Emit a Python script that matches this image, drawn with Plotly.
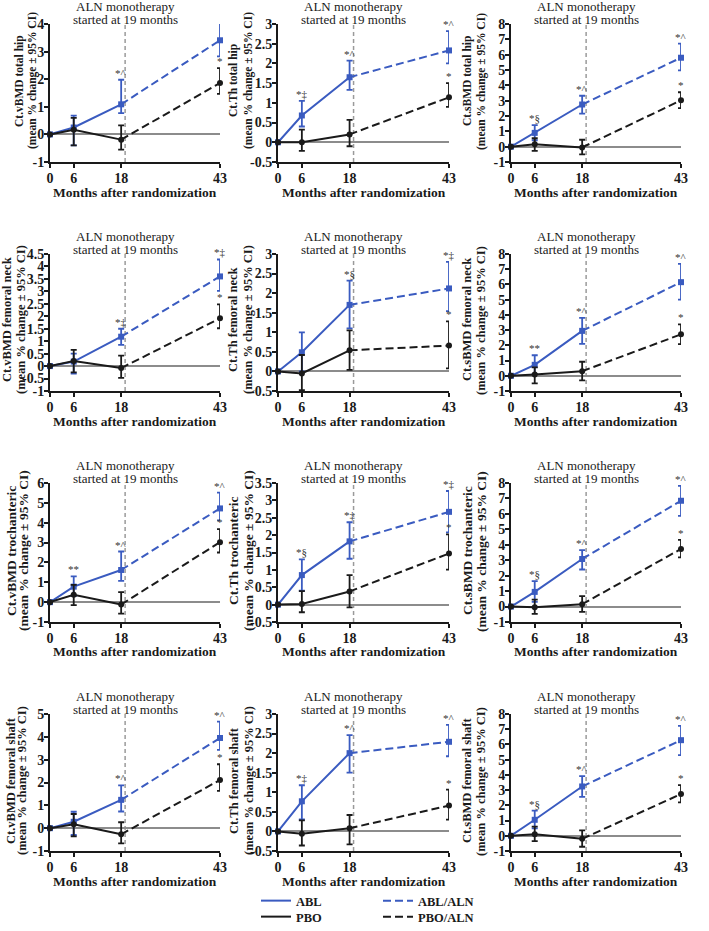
import plotly.graph_objects as go

# ---------------- data ----------------
months = [0, 6, 18, 43]
ALN_START = 19

ylabel_line1 = [
    "Ct.vBMD total hip", "Ct.Th total hip", "Ct.sBMD total hip",
    "Ct.vBMD femoral neck", "Ct.Th femoral neck", "Ct.sBMD femoral neck",
    "Ct.vBMD trochanteric", "Ct.Th trochanteric", "Ct.sBMD trochanteric",
    "Ct.vBMD femoral shaft", "Ct.Th femoral shaft", "Ct.sBMD femoral shaft",
]
ylabel_line2 = "(mean % change ± 95% CI)"
xlabel = "Months after randomization"
title_line1 = "ALN monotherapy"
title_line2 = "started at 19 months"

# y-axis ranges (min, max, tick step)
y_ranges = [
    (-1, 4, 1), (-0.5, 3, 0.5), (-1, 8, 1),
    (-1, 4.5, 0.5), (-0.5, 3, 0.5), (-1, 8, 1),
    (-1, 6, 1), (-0.5, 3.5, 0.5), (-1, 8, 1),
    (-1, 5, 1), (-0.5, 3, 0.5), (-1, 8, 1),
]

abl_mean = [
    [0, 0.25, 1.09, 3.41], [0, 0.68, 1.65, 2.33], [0, 0.90, 2.75, 5.80],
    [0, 0.18, 1.18, 3.60], [0, 0.49, 1.70, 2.12], [0, 0.72, 2.95, 6.15],
    [0, 0.78, 1.62, 4.72], [0, 0.85, 1.82, 2.67], [0, 0.95, 3.08, 6.85],
    [0, 0.28, 1.24, 3.95], [0, 0.77, 2.00, 2.29], [0, 1.05, 3.24, 6.28],
]
abl_lo = [
    [0, -0.40, 0.77, 2.83], [0, 0.40, 1.33, 2.00], [0, 0.42, 2.15, 4.98],
    [0, -0.30, 0.85, 3.02], [0, 0.00, 1.10, 1.54], [0, 0.12, 2.10, 5.00],
    [0, 0.30, 1.07, 4.12], [0, 0.40, 1.32, 2.08], [0, 0.30, 2.40, 5.87],
    [0, -0.30, 0.73, 3.43], [0, 0.31, 1.50, 1.92], [0, 0.48, 2.56, 5.30],
]
abl_hi = [
    [0, 0.68, 1.98, 4.15], [0, 1.05, 2.07, 2.82], [0, 1.40, 3.32, 6.72],
    [0, 0.50, 1.50, 4.28], [0, 1.00, 2.32, 2.80], [0, 1.35, 3.80, 7.35],
    [0, 1.30, 2.55, 5.52], [0, 1.30, 2.37, 3.27], [0, 1.65, 3.65, 7.82],
    [0, 0.72, 1.87, 4.67], [0, 1.18, 2.46, 2.72], [0, 1.65, 3.92, 7.22],
]
pbo_mean = [
    [0, 0.17, -0.19, 1.86], [0, 0.00, 0.20, 1.14], [0, 0.15, -0.05, 3.02],
    [0, 0.20, -0.08, 1.92], [0, -0.05, 0.54, 0.66], [0, 0.08, 0.30, 2.72],
    [0, 0.37, -0.12, 3.02], [0, 0.02, 0.38, 1.47], [0, -0.05, 0.15, 3.73],
    [0, 0.17, -0.27, 2.11], [0, -0.06, 0.08, 0.66], [0, 0.10, -0.20, 2.74],
]
pbo_lo = [
    [0, -0.40, -0.55, 1.47], [0, -0.22, -0.10, 0.90], [0, -0.28, -0.50, 2.52],
    [0, -0.25, -0.47, 1.52], [0, -0.48, 0.04, 0.08], [0, -0.50, -0.30, 2.08],
    [0, -0.15, -0.58, 2.50], [0, -0.22, -0.08, 1.01], [0, -0.48, -0.35, 3.18],
    [0, -0.36, -0.67, 1.63], [0, -0.36, -0.33, 0.30], [0, -0.35, -0.72, 2.20],
]
pbo_hi = [
    [0, 0.60, 0.33, 2.40], [0, 0.32, 0.57, 1.50], [0, 0.55, 0.45, 3.55],
    [0, 0.65, 0.42, 2.48], [0, 0.42, 1.05, 1.28], [0, 0.55, 0.92, 3.38],
    [0, 0.87, 0.50, 3.68], [0, 0.39, 0.85, 2.02], [0, 0.45, 0.68, 4.32],
    [0, 0.62, 0.26, 2.80], [0, 0.28, 0.42, 1.07], [0, 0.60, 0.35, 3.33],
]

# significance marks: (month, group, label)
sig_marks = [
    [(18, "ABL", "*^"), (43, "ABL", "*^"), (43, "PBO", "*")],
    [(6, "ABL", "*‡"), (18, "ABL", "*^"), (43, "ABL", "*^"), (43, "PBO", "*")],
    [(6, "ABL", "*§"), (18, "ABL", "*^"), (43, "ABL", "*^"), (43, "PBO", "*")],
    [(18, "ABL", "*‡"), (43, "ABL", "*‡"), (43, "PBO", "*")],
    [(18, "ABL", "*§"), (43, "ABL", "*‡"), (43, "PBO", "*")],
    [(6, "ABL", "**"), (18, "ABL", "*^"), (43, "ABL", "*^"), (43, "PBO", "*")],
    [(6, "ABL", "**"), (18, "ABL", "*^"), (43, "ABL", "*^"), (43, "PBO", "*")],
    [(6, "ABL", "*§"), (18, "ABL", "*‡"), (43, "ABL", "*‡"), (43, "PBO", "*")],
    [(6, "ABL", "*§"), (18, "ABL", "*^"), (43, "ABL", "*^"), (43, "PBO", "*")],
    [(18, "ABL", "*^"), (43, "ABL", "*^"), (43, "PBO", "*")],
    [(6, "ABL", "*‡"), (18, "ABL", "*^"), (43, "ABL", "*^"), (43, "PBO", "*")],
    [(6, "ABL", "*§"), (18, "ABL", "*^"), (43, "ABL", "*^"), (43, "PBO", "*")],
]

# ---------------- layout / style ----------------
W, H = 709, 931
col_px = [(50, 220), (278, 449), (511, 681)]
row_px = [(24, 162), (254, 391), (483, 622), (714, 851)]
ytitle_x1 = [19, 233, 467, 7, 233, 467, 11, 233, 467, 11, 234, 467]
ytitle_x2 = [32, 248, 481, 21, 248, 481, 23, 248, 481, 22, 249, 481]
ytitle_yc = [81, 320, 551, 781]
ytitle_size = [11.5, 12.5, 13.5, 12.5]

BLUE = "#3a5bc0"
BLACK = "#1a1a1a"
GREY = "#8c8c8c"
SERIF = "Liberation Serif"

fig = go.Figure()
layout = dict(
    width=W, height=H, margin=dict(l=0, r=0, t=0, b=0, pad=0, autoexpand=False),
    plot_bgcolor="white", paper_bgcolor="white",
    font=dict(family=SERIF, color=BLACK),
    annotations=[], shapes=[],
)


def ax_name(i):
    return "" if i == 0 else str(i + 1)


for i in range(12):
    r, c = divmod(i, 3)
    s = ax_name(i)
    x0, x1 = col_px[c]
    ytop, ybot = row_px[r]
    ymin, ymax, step = y_ranges[i]
    n = int(round((ymax - ymin) / step))
    tv = [round(ymin + k * step, 3) for k in range(n + 1)]
    tt = [f"{v:g}" for v in tv]

    layout["xaxis" + s] = dict(
        domain=[x0 / W, x1 / W], range=[0, 43], anchor="y" + s, automargin=False,
        tickvals=months, ticktext=[str(m) for m in months],
        ticks="outside", ticklen=4, tickwidth=2, tickcolor=BLACK,
        ticklabelstandoff=-2,
        showline=True, linecolor=BLACK, linewidth=2,
        showgrid=False, zeroline=False,
        tickfont=dict(family=SERIF, size=14, weight="bold", color=BLACK),
    )
    layout["yaxis" + s] = dict(
        domain=[1 - ybot / H, 1 - ytop / H], range=[ymin, ymax], anchor="x" + s,
        automargin=False,
        tickvals=tv, ticktext=tt,
        ticks="outside", ticklen=4, tickwidth=2, tickcolor=BLACK,
        ticklabelstandoff=-3,
        showline=True, linecolor=BLACK, linewidth=2,
        showgrid=False, zeroline=True, zerolinecolor=GREY, zerolinewidth=2,
        tickfont=dict(family=SERIF, size=14, weight="bold", color=BLACK),
    )

    # vertical dashed line at ALN start
    layout["shapes"].append(dict(
        type="line", xref="x" + s, yref="y" + s + " domain",
        x0=ALN_START, x1=ALN_START, y0=0, y1=1,
        line=dict(color="#9a9a9a", width=1.5, dash="4px,3px"), layer="below",
    ))

    groups = [
        ("ABL", "ABL/ALN", BLUE, "square", abl_mean[i], abl_lo[i], abl_hi[i], "legend"),
        ("PBO", "PBO/ALN", BLACK, "circle", pbo_mean[i], pbo_lo[i], pbo_hi[i], "legend2"),
    ]
    for name, name2, col, sym, mean, lo, hi, lg in groups:
        fig.add_trace(go.Scatter(
            x=months[:3], y=mean[:3], mode="lines", name=name,
            line=dict(color=col, width=2), xaxis="x" + s, yaxis="y" + s,
            showlegend=(i == 0), legend=lg, hoverinfo="skip", cliponaxis=False,
        ))
        fig.add_trace(go.Scatter(
            x=months[2:], y=mean[2:], mode="lines", name=name2,
            line=dict(color=col, width=2, dash="8px,4px"), xaxis="x" + s, yaxis="y" + s,
            showlegend=(i == 0), legend=lg, hoverinfo="skip", cliponaxis=False,
        ))
        plus = [None] + [h - m for h, m in zip(hi[1:], mean[1:])]
        minus = [None] + [m - l for m, l in zip(mean[1:], lo[1:])]
        fig.add_trace(go.Scatter(
            x=months, y=mean, mode="markers", showlegend=False,
            marker=dict(color=col, symbol=sym, size=6),
            error_y=dict(type="data", array=plus, arrayminus=minus, symmetric=False,
                         color=col, thickness=1.8, width=3),
            xaxis="x" + s, yaxis="y" + s, hoverinfo="skip", cliponaxis=False,
        ))

    # significance marks
    for (m, g, lab) in sig_marks[i]:
        k = months.index(m)
        top = abl_hi[i][k] if g == "ABL" else pbo_hi[i][k]
        layout["annotations"].append(dict(
            x=m, y=top, xref="x" + s, yref="y" + s, text=lab, showarrow=False,
            yanchor="bottom", yshift=-1,
            font=dict(family=SERIF, size=11, color="#333333"),
        ))

    # titles above panel
    layout["annotations"].append(dict(
        x=ALN_START, y=1, xref="x" + s, yref="y" + s + " domain", text=title_line1,
        showarrow=False, yanchor="middle", yshift=17.5,
        font=dict(family=SERIF, size=13, color=BLACK),
    ))
    layout["annotations"].append(dict(
        x=ALN_START, y=1, xref="x" + s, yref="y" + s + " domain", text=title_line2,
        showarrow=False, yanchor="middle", yshift=5,
        font=dict(family=SERIF, size=13, color=BLACK),
    ))
    # x-axis title
    layout["annotations"].append(dict(
        x=0.5, y=0, xref="x" + s + " domain", yref="y" + s + " domain", text=xlabel,
        showarrow=False, yanchor="middle", yshift=-30,
        font=dict(family=SERIF, size=13.5, weight="bold", color=BLACK),
    ))
    # y-axis title (two lines)
    yc = 1 - ytitle_yc[r] / H
    fs = ytitle_size[r]
    layout["annotations"].append(dict(
        x=ytitle_x1[i] / W, y=yc, xref="paper", yref="paper", text=ylabel_line1[i],
        showarrow=False, textangle=-90, xanchor="center", yanchor="middle",
        font=dict(family=SERIF, size=fs, weight="bold", color=BLACK),
    ))
    layout["annotations"].append(dict(
        x=ytitle_x2[i] / W, y=yc, xref="paper", yref="paper", text=ylabel_line2,
        showarrow=False, textangle=-90, xanchor="center", yanchor="middle",
        font=dict(family=SERIF, size=fs, weight="bold", color=BLACK),
    ))

legend_style = dict(
    orientation="h", xanchor="left", yanchor="middle", bgcolor="rgba(0,0,0,0)",
    font=dict(family=SERIF, size=12.5, weight="bold", color=BLACK),
    entrywidth=77, entrywidthmode="pixels", itemclick=False, itemdoubleclick=False,
    tracegroupgap=0,
)
layout["legend"] = dict(legend_style, x=256 / W, y=1 - 901 / H)
layout["legend2"] = dict(legend_style, x=256 / W, y=1 - 917 / H)

fig.update_layout(**layout)
fig.write_html("out.html", config={"displayModeBar": False},
               post_script="document.body.style.margin='0px';")
